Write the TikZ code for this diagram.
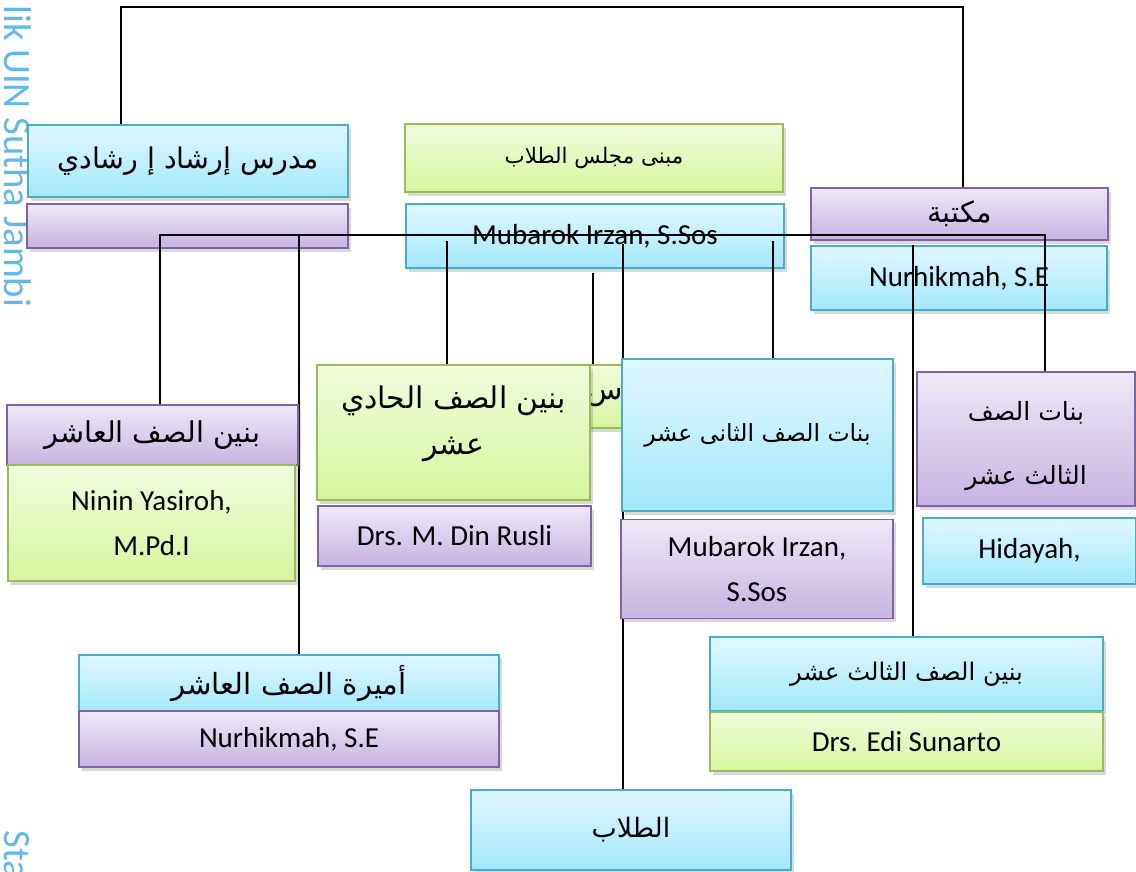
\documentclass[tikz,border=0pt]{standalone}
\usepackage{fontspec}
\setmainfont{Carlito}
\newfontfamily\arabicfont[Script=Arabic]{DejaVu Sans}
\TeXXeTstate=1
\usetikzlibrary{shadows}

\definecolor{blueline}{HTML}{4BACC6}
\definecolor{bluetop}{HTML}{E0F7FE}
\definecolor{bluebot}{HTML}{A3E8FB}
\definecolor{purpleline}{HTML}{8064A2}
\definecolor{purpletop}{HTML}{EEE9F6}
\definecolor{purplebot}{HTML}{C6B3E2}
\definecolor{greenline}{HTML}{9BBB59}
\definecolor{greentop}{HTML}{F1FBDC}
\definecolor{greenbot}{HTML}{D6F59E}
\definecolor{stamp}{HTML}{62B8E8}

\begin{document}
\begin{tikzpicture}[x = 0.02cm, y = -0.02cm,
                    box/.style        = {shape      = rectangle,
                                         line width = 1pt,
                                         align      = center,
                                         inner sep  = 2pt,
                                         drop shadow = {shadow xshift = 1.5pt,
                                                        shadow yshift = -2pt,
                                                        opacity = 0.3}},
                    blue box/.style   = {box, draw = blueline,
                                         top color = bluetop, bottom color = bluebot},
                    purple box/.style = {box, draw = purpleline,
                                         top color = purpletop, bottom color = purplebot},
                    green box/.style  = {box, draw = greenline,
                                         top color = greentop, bottom color = greenbot},
                    latin/.style      = {font = \fontsize{16.5}{25.5}\selectfont},
                    arab/.style       = {font = \arabicfont\fontsize{#1}{26}\selectfont},
                    stamp text/.style = {rotate = -90, anchor = south west, inner sep = 0pt,
                                         text = stamp, font = \fontsize{22}{22}\selectfont},
                    link/.style       = {-, line width = 1pt, black}]

\useasboundingbox (0,0) rectangle (1136,872);

% watermark on the left edge
\node[stamp text] (stampA) at (4,5)   {lik UIN Sutha Jambi};
\node[stamp text] (stampB) at (4,830) {Sta};

% the upper boxes
\node[blue box, minimum width = 6.40cm, minimum height = 1.44cm, arab = 16.2] (guru) at (188,161)
     {\beginR مدرس إرشاد إ رشادي\endR};
\node[purple box, minimum width = 6.42cm, minimum height = 0.88cm] (guruname) at (187.5,226) {};
\node[green box, minimum width = 7.56cm, minimum height = 1.36cm, arab = 12.2] (majlis) at (594,158)
     {\beginR مبنى مجلس الطلاب\endR};
\node[blue box, minimum width = 7.56cm, minimum height = 1.28cm, latin] (majlisname) at (595,236)
     {Mubarok Irzan, S.Sos};
\node[purple box, minimum width = 5.94cm, minimum height = 1.04cm, arab = 16.4] (maktaba) at (959.5,214)
     {\beginR مكتبة\endR};
\node[blue box, minimum width = 5.92cm, minimum height = 1.28cm, latin] (maktabaname) at (959,278)
     {Nurhikmah, S.E};

% connectors
\coordinate (topL)  at (121,7);
\coordinate (topR)  at (963,7);
\coordinate (busL)  at (160,235);
\coordinate (busR)  at (1045,235);
\coordinate (amira) at (299,236);
\coordinate (d11)   at (447,241);
\coordinate (dmj)   at (593,273);
\coordinate (dtl)   at (623,244);
\coordinate (d12)   at (773,241);
\coordinate (d13)   at (913,245);

\draw[link] (topL |- guru.north) -- (topL) -- (topR) -- (topR |- maktaba.north);
\draw[link] (busL |- 0,405) -- (busL) -- (busR) -- (busR |- 0,372);
\draw[link] (amira) -- (amira |- 0,655);
\draw[link] (d11) -- (d11 |- 0,365);
\draw[link] (dmj) -- (dmj |- 0,365);
\draw[link] (dtl) -- (dtl |- 0,790);
\draw[link] (d12) -- (d12 |- 0,359);
\draw[link] (d13) -- (d13 |- 0,637);

% the lower boxes
\node[green box, minimum width = 1.40cm, minimum height = 1.26cm] (majlisbox) at (605,396.5) {};
\node[arab = 17] (majlistext) at (605,398) {\beginR س\endR};
\node[purple box, minimum width = 5.82cm, minimum height = 1.20cm, arab = 16.3] (banin10) at (152.5,435)
     {\beginR بنين الصف العاشر\endR};
\node[green box, minimum width = 5.74cm, minimum height = 2.32cm, latin] (banin10name) at (151.5,523)
     {Ninin Yasiroh,\\ M.Pd.I};
\node[green box, minimum width = 5.46cm, minimum height = 2.70cm] (banin11) at (453.5,432.5) {};
\node[arab = 17, align = center] (banin11text) at (453.5,424)
     {\beginR بنين الصف الحادي\endR\\ \beginR عشر\endR};
\node[purple box, minimum width = 5.46cm, minimum height = 1.20cm, latin] (banin11name) at (454.5,536)
     {Drs. M. Din Rusli};
\node[blue box, minimum width = 5.42cm, minimum height = 3.04cm, arab = 13.4] (banat12) at (757.5,435)
     {\beginR بنات الصف الثانى عشر\endR};
\node[purple box, minimum width = 5.44cm, minimum height = 1.98cm, latin] (banat12name) at (757,569)
     {Mubarok Irzan,\\ S.Sos};
\node[purple box, minimum width = 4.36cm, minimum height = 2.68cm] (banat13) at (1026,439) {};
\node[arab = 14.3, align = center] (banat13text) at (1026,446)
     {\beginR بنات الصف\endR\\[10pt] \beginR الثالث عشر\endR};
\node[blue box, minimum width = 4.26cm, minimum height = 1.32cm, latin] (banat13name) at (1029.5,551)
     {Hidayah,};
\node[blue box, minimum width = 8.40cm, minimum height = 1.12cm, arab = 16.6] (amira10) at (289,683)
     {\beginR أميرة الصف العاشر\endR};
\node[purple box, minimum width = 8.40cm, minimum height = 1.12cm, latin] (amira10name) at (289,739)
     {Nurhikmah, S.E};
\node[blue box, minimum width = 7.86cm, minimum height = 1.48cm, arab = 13.8] (banin13) at (906.5,674)
     {\beginR بنين الصف الثالث عشر\endR};
\node[green box, minimum width = 7.86cm, minimum height = 1.18cm, latin] (banin13name) at (906.5,741.5)
     {Drs. Edi Sunarto};
\node[blue box, minimum width = 6.40cm, minimum height = 1.60cm, arab = 15.2] (tullab) at (631,830)
     {\beginR الطلاب\endR};
\end{tikzpicture}
\end{document}
